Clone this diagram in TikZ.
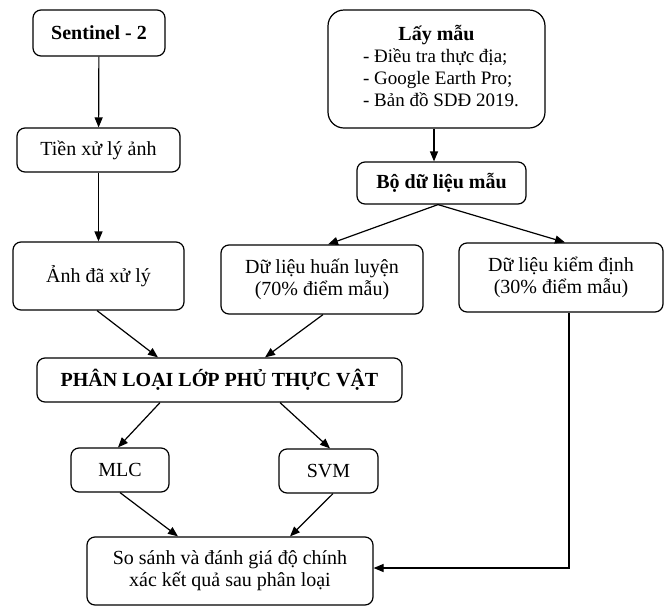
\documentclass[tikz,border=0pt]{standalone}
\usepackage{fontspec}
\setmainfont{Liberation Serif}
\usetikzlibrary{arrows.meta}
\begin{document}
\begin{tikzpicture}[x=1pt,y=-1pt,
  box/.style={draw, line width=1.2pt, rounded corners=8pt, inner sep=0pt, align=center,
    font=\fontsize{20}{22}\selectfont},
  conn/.style={line width=1.2pt, -{Triangle[length=10pt,width=8pt]}}]
\useasboundingbox (0,0) rectangle (670,606);
\node[box, minimum width=132pt, minimum height=46pt] (sen) at (99,33) {\textbf{Sentinel - 2}};
\node[box, minimum width=163pt, minimum height=44pt] (tien) at (98.5,150) {Tiền xử lý ảnh};
\node[box, minimum width=171pt, minimum height=68pt] (anh) at (98.5,276) {Ảnh đã xử lý};
\node[box, minimum width=217pt, minimum height=118pt, rounded corners=16pt] (lay) at (436.5,69)
  {\begin{tabular}{@{}l@{}}\multicolumn{1}{@{}c@{}}{\fontsize{20}{22}\selectfont\textbf{Lấy mẫu}}\\
   \hspace*{9pt}{\fontsize{19}{22}\selectfont - Điều tra thực địa;}\\
   \hspace*{9pt}{\fontsize{19}{22}\selectfont - Google Earth Pro;}\\
   \hspace*{9pt}{\fontsize{19}{22}\selectfont - Bản đồ SDĐ 2019.}\end{tabular}};
\node[box, minimum width=169pt, minimum height=42pt] (bo) at (441.5,183) {\textbf{Bộ dữ liệu mẫu}};
\node[box, minimum width=202pt, minimum height=69pt] (hl) at (322,279.5) {Dữ liệu huấn luyện\\(70\% điểm mẫu)};
\node[box, minimum width=204pt, minimum height=69pt] (kd) at (561,277.5) {Dữ liệu kiểm định\\(30\% điểm mẫu)};
\node[box, minimum width=365pt, minimum height=44pt] (phan) at (219.5,380) {\textbf{PHÂN LOẠI LỚP PHỦ THỰC VẬT}};
\node[box, minimum width=98pt, minimum height=44pt] (mlc) at (120,470) {MLC};
\node[box, minimum width=99pt, minimum height=44pt] (svm) at (328.5,471) {SVM};
\node[box, minimum width=286pt, minimum height=68pt] (ss) at (230,571) {So sánh và đánh giá độ chính\\xác kết quả sau phân loại};
\draw[conn] (sen) -- (tien);
\draw[conn] (tien) -- (anh);
\draw[conn] ([xshift=-2.5pt]lay.south) -- ([xshift=-7.5pt]bo.north);
\draw[conn] ([xshift=-3.5pt]bo.south) -- ([xshift=6pt]hl.north);
\draw[conn] ([xshift=-3.5pt]bo.south) -- ([xshift=4pt]kd.north);
\draw[conn] ([xshift=-1.5pt]anh.south) -- ([xshift=-61.5pt]phan.north);
\draw[conn] ([xshift=1pt]hl.south) -- ([xshift=45.5pt]phan.north);
\draw[conn] ([xshift=-59.5pt]phan.south) -- ([xshift=-2pt]mlc.north);
\draw[conn] ([xshift=60.5pt]phan.south) -- ([xshift=1.5pt]svm.north);
\draw[conn] (mlc.south) -- ([xshift=-52pt]ss.north);
\draw[conn] ([xshift=4.5pt]svm.south) -- ([xshift=60pt]ss.north);
\draw[conn] ([xshift=8pt]kd.south) |- ([yshift=3pt]ss.east);
\end{tikzpicture}
\end{document}
